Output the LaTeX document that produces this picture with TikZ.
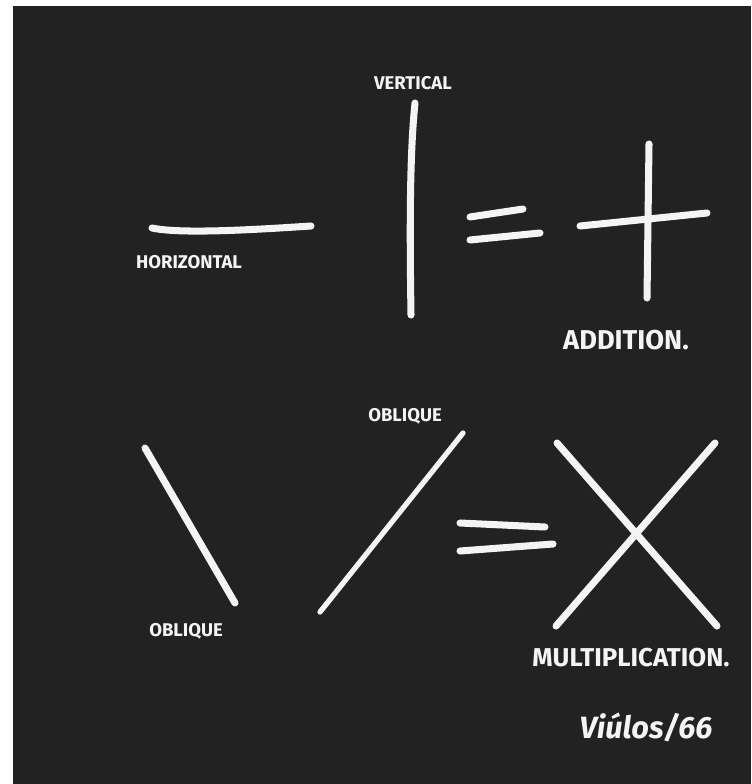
\documentclass[tikz,border=0pt]{standalone}
\usepackage{fontspec}
\setsansfont{Fira Sans}
\definecolor{board}{RGB}{34,34,34}
\definecolor{chalk}{RGB}{244,244,244}
\tikzset{
  stroke/.style={draw=chalk,line width=4pt,line cap=round,line join=round},
  thin stroke/.style={stroke,line width=3pt},
  tag/.style={text=chalk,inner sep=0pt,font=\sffamily\bfseries\fontsize{10.5}{10.5}\selectfont},
  big tag/.style={tag,font=\sffamily\bfseries\fontsize{15.5}{15.5}\selectfont},
  sign/.style={tag,font=\sffamily\bfseries\itshape\fontsize{17.5}{17.5}\selectfont}
}
\begin{document}
\begin{tikzpicture}[x=0.02cm,y=-0.02cm]
\useasboundingbox (0,0) rectangle (751,784);
\fill[white] (0,0) rectangle (751,784);
\fill[board] (13,6) rectangle (751,784);
% horizontal + vertical = addition
\draw[stroke] (152,228) .. controls (180,234) and (250,230) .. (311,226);
\draw[stroke] (415,103) .. controls (409,160) and (410,250) .. (411,315);
\draw[stroke] (470,217) -- (523,209);
\draw[stroke] (470,240) -- (540,233);
\draw[stroke] (649,144) -- (647,298);
\draw[stroke] (580,226) -- (707,213);
\node[tag] (vert) at (413,83) {VERTICAL};
\node[tag] (horiz) at (189,262) {HORIZONTAL};
\node[big tag] (add) at (626,340) {ADDITION.};
% oblique + oblique = multiplication
\draw[stroke] (145,448) -- (235,603);
\draw[thin stroke] (320,612) -- (463,433);
\draw[stroke] (460,523) -- (545,527);
\draw[stroke] (460,551) -- (553,544);
\draw[stroke] (557,443) -- (717,626);
\draw[stroke] (715,443) -- (556,626);
\node[tag] (oblA) at (405,416) {OBLIQUE};
\node[tag] (oblB) at (186,631) {OBLIQUE};
\node[big tag,font=\sffamily\bfseries\fontsize{14.7}{14.7}\selectfont] (mult) at (631,658) {MULTIPLICATION.};
\node[sign] (sig) at (646,727) {Viúlos/66};
\end{tikzpicture}
\end{document}
